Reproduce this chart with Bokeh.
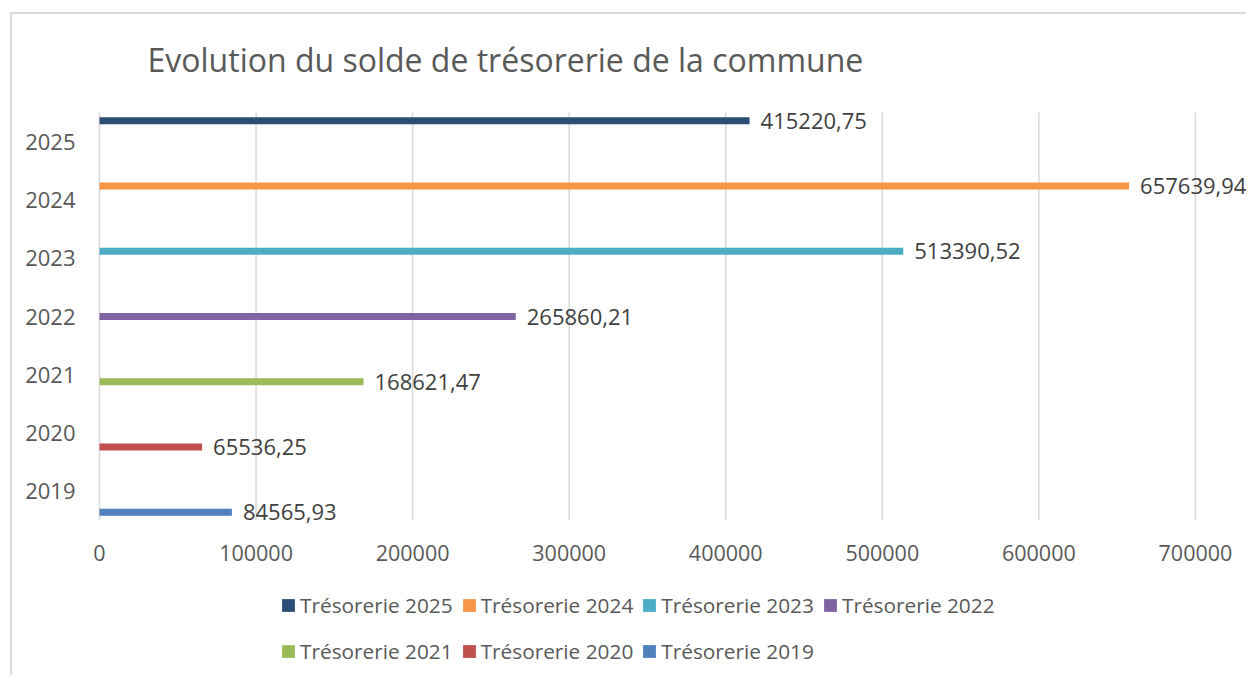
from bokeh.plotting import figure
from bokeh.models import (Range1d, FixedTicker, Legend, LegendItem, ColumnDataSource)
from bokeh.core.properties import value
from bokeh.embed import file_html
from bokeh.resources import INLINE

# ---- data ----
years = ["2019", "2020", "2021", "2022", "2023", "2024", "2025"]
series_names = ["Trésorerie 2019", "Trésorerie 2020", "Trésorerie 2021", "Trésorerie 2022",
                "Trésorerie 2023", "Trésorerie 2024", "Trésorerie 2025"]
amounts = [84565.93, 65536.25, 168621.47, 265860.21, 513390.52, 657639.94, 415220.75]
colors = ["#4F81BD", "#C0504D", "#9BBB59", "#8064A2", "#4BACC6", "#F79646", "#2C4D75"]
x_ticks = [0, 100000, 200000, 300000, 400000, 500000, 600000, 700000]
title_text = "Evolution du solde de trésorerie de la commune"

FONT = "Open Sans"
n = len(years)
bar_h = 0.12                      # bar thickness in category units
cat_center = [i + 0.5 for i in range(n)]   # categories occupy [0, n]
tick_label_y = -0.55              # row of value-axis labels, below the category band

p = figure(width=1236, height=663,
           y_range=Range1d(-2.693, 7.257),
           x_range=Range1d(-8942, 733900),
           x_axis_location=None,
           output_backend="svg", toolbar_location=None,
           min_border_left=73, min_border_right=0,
           min_border_top=83, min_border_bottom=0,
           title=title_text)
p.margin = (12, 0, 0, 10)
p.styles = {"border-top": "2px solid #d9d9d9", "border-left": "2px solid #d9d9d9"}
p.outline_line_color = None

p.title.text_font = FONT
p.title.text_font_size = "32px"
p.title.text_font_style = "normal"
p.title.text_color = "#595959"
p.title.align = "left"
p.title.offset = 62
p.title.standoff = 33

p.xgrid.grid_line_color = None
p.ygrid.grid_line_color = None

# vertical grid lines over the category band
p.segment(x0=x_ticks, x1=x_ticks, y0=[0] * len(x_ticks), y1=[n] * len(x_ticks),
          line_color="#d9d9d9", line_width=1.5)

# value-axis labels
p.text(x=x_ticks, y=[tick_label_y] * len(x_ticks), text=[str(t) for t in x_ticks],
       text_align="center", text_baseline="middle", text_font=value(FONT),
       text_font_size="21.5px", text_color="#595959")

bars = []
for i in range(n):
    yc = cat_center[i] + (i - (n - 1) / 2) * bar_h
    src = ColumnDataSource(dict(y=[yc], amount=[amounts[i]],
                                label=[f"{amounts[i]:.2f}".replace(".", ",")]))
    r = p.hbar(y="y", left=0, right="amount", height=bar_h,
               fill_color=colors[i], line_color=None, source=src)
    bars.append(r)
    p.text(x="amount", y="y", text="label", x_offset=11,
           text_baseline="middle", text_align="left",
           text_font=value(FONT), text_font_size="22px", text_color="#404040",
           source=src)

# category axis
p.yaxis.ticker = FixedTicker(ticks=cat_center)
p.yaxis.major_label_overrides = {c: y for c, y in zip(cat_center, years)}
p.yaxis.axis_line_color = None
p.yaxis.major_tick_line_color = None
p.yaxis.minor_tick_line_color = None
p.yaxis.major_tick_out = 0
p.yaxis.major_tick_in = 0
p.yaxis.major_label_standoff = 10
p.yaxis.major_label_text_font = FONT
p.yaxis.major_label_text_font_size = "22px"
p.yaxis.major_label_text_color = "#595959"

items = [LegendItem(label=series_names[i], renderers=[bars[i]]) for i in reversed(range(n))]
legend = Legend(items=items, orientation="horizontal", ncols=4,
                location=(195, 7), padding=0, margin=0, spacing=8,
                label_height=38, glyph_height=16, glyph_width=16, label_standoff=4,
                label_text_font=FONT, label_text_font_size="20.8px",
                label_text_color="#595959", border_line_color=None,
                background_fill_alpha=0)
p.add_layout(legend, "center")

open("out.html", "w").write(file_html(p, INLINE))
